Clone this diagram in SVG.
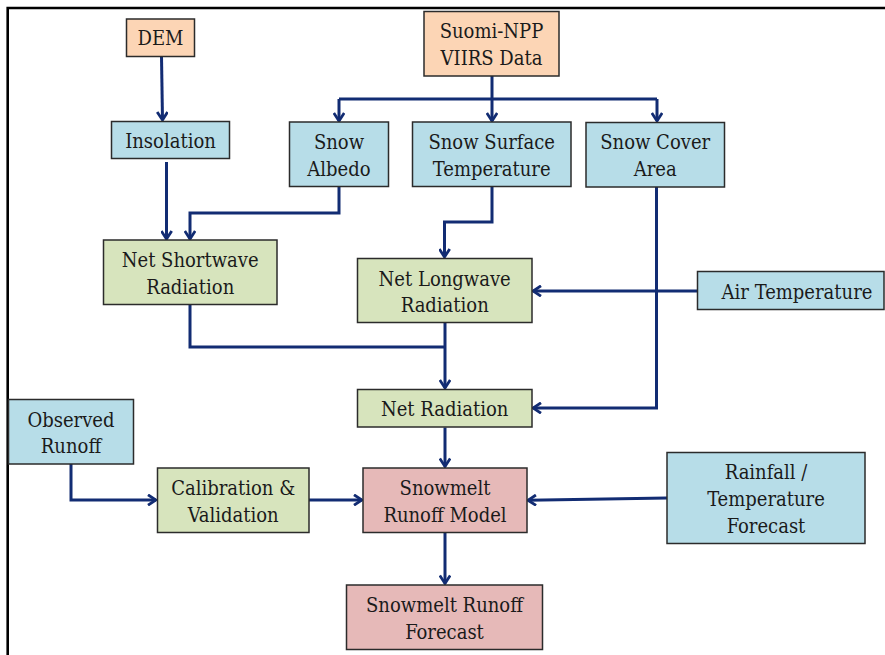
<svg xmlns="http://www.w3.org/2000/svg" width="885" height="655" viewBox="0 0 885 655">
<defs>
<style>
.box{stroke:#2b2b2b;stroke-width:1.5}
.peach{fill:#fcd5b5}
.blue{fill:#b7dde8}
.green{fill:#d7e4bd}
.pink{fill:#e6b9b8}
text{font-family:"DejaVu Serif","Liberation Serif",serif;font-stretch:condensed;font-size:20px;fill:#1a1a1a;text-anchor:middle}
.c{fill:none;stroke:#122c73;stroke-width:3;stroke-linejoin:miter}
</style>
<marker id="ah" viewBox="0 0 12 12" refX="10" refY="6" markerWidth="12" markerHeight="12" markerUnits="userSpaceOnUse" orient="auto">
<path d="M2,0.8 L10,6 L2,11.2" fill="none" stroke="#122c73" stroke-width="2.8"/>
</marker>
</defs>
<rect width="885" height="655" fill="#ffffff"/>
<path d="M7.7,655 V8 H885" fill="none" stroke="#000" stroke-width="2.6"/>

<g id="connectors">
<path class="c" d="M161.5,56.5 L162.5,120" marker-end="url(#ah)"/>
<path class="c" d="M166.5,162 V239" marker-end="url(#ah)"/>
<path class="c" d="M339,187 V213 H190 V239" marker-end="url(#ah)"/>
<path class="c" d="M492,76 V99"/>
<path class="c" d="M339,99 H657"/>
<path class="c" d="M339,99 V121" marker-end="url(#ah)"/>
<path class="c" d="M492,99 V121" marker-end="url(#ah)"/>
<path class="c" d="M657,99 V121" marker-end="url(#ah)"/>
<path class="c" d="M492,187 V222 H444.5 V257" marker-end="url(#ah)"/>
<path class="c" d="M697,291 H533" marker-end="url(#ah)"/>
<path class="c" d="M656.5,187 V408 H533" marker-end="url(#ah)"/>
<path class="c" d="M190,305 V347 H445"/>
<path class="c" d="M445,323 V388" marker-end="url(#ah)"/>
<path class="c" d="M445,427.5 V466.5" marker-end="url(#ah)"/>
<path class="c" d="M71,464 V500 H156" marker-end="url(#ah)"/>
<path class="c" d="M309,500 H362" marker-end="url(#ah)"/>
<path class="c" d="M667,498 L528,500.3" marker-end="url(#ah)"/>
<path class="c" d="M445,532.5 V583.5" marker-end="url(#ah)"/>
</g>

<g id="dem"><rect class="box peach" x="126.5" y="19" width="68" height="37.5"/><text x="160.5" y="45">DEM</text></g>
<g id="suomi"><rect class="box peach" x="424" y="11.5" width="135" height="64.5"/><text x="491.5" y="38">Suomi-NPP</text><text x="491.5" y="64.5">VIIRS Data</text></g>
<g id="insolation"><rect class="box blue" x="111.5" y="121.5" width="118" height="37"/><text x="170.5" y="147.5">Insolation</text></g>
<g id="snow-albedo"><rect class="box blue" x="289.5" y="122" width="99" height="64.5"/><text x="339" y="149">Snow</text><text x="339" y="175.5">Albedo</text></g>
<g id="snow-surface-temp"><rect class="box blue" x="412.5" y="122" width="158.5" height="64.5"/><text x="491.7" y="149">Snow Surface</text><text x="491.7" y="175.5">Temperature</text></g>
<g id="snow-cover"><rect class="box blue" x="586" y="122.5" width="138.5" height="64.5"/><text x="655.2" y="149">Snow Cover</text><text x="655.2" y="175.5">Area</text></g>
<g id="air-temp"><rect class="box blue" x="697.5" y="271.5" width="186.5" height="38"/><text x="797" y="298.5">Air Temperature</text></g>
<g id="net-shortwave"><rect class="box green" x="103.5" y="240" width="173.5" height="64.5"/><text x="190.2" y="267.3">Net Shortwave</text><text x="190.2" y="293.5">Radiation</text></g>
<g id="net-longwave"><rect class="box green" x="357.5" y="258.5" width="174.5" height="64"/><text x="444.7" y="285.5">Net Longwave</text><text x="444.7" y="311.8">Radiation</text></g>
<g id="net-radiation"><rect class="box green" x="357.5" y="389.5" width="174.5" height="37.5"/><text x="444.7" y="416">Net Radiation</text></g>
<g id="observed-runoff"><rect class="box blue" x="8.5" y="399.5" width="125" height="64.5"/><text x="71" y="426.5">Observed</text><text x="71" y="453">Runoff</text></g>
<g id="calibration"><rect class="box green" x="157.5" y="468" width="151.5" height="64.5"/><text x="233.2" y="495">Calibration &amp;</text><text x="233.2" y="521.5">Validation</text></g>
<g id="snowmelt-model"><rect class="box pink" x="363" y="468" width="164" height="64.5"/><text x="445" y="495">Snowmelt</text><text x="445" y="521.5">Runoff Model</text></g>
<g id="rainfall"><rect class="box blue" x="667" y="452.5" width="198" height="91"/><text x="766" y="479.3">Rainfall /</text><text x="766" y="506">Temperature</text><text x="766" y="532.7">Forecast</text></g>
<g id="snowmelt-forecast"><rect class="box pink" x="346.5" y="585" width="196" height="64.5"/><text x="444.5" y="612">Snowmelt Runoff</text><text x="444.5" y="638.5">Forecast</text></g>
</svg>
